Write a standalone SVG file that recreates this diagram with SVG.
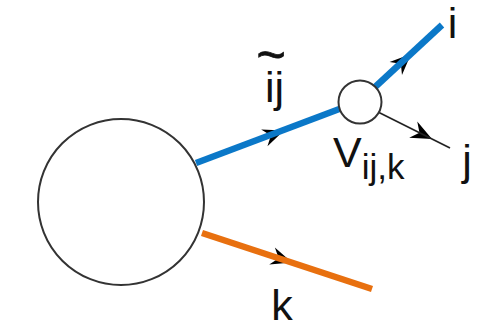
<svg xmlns="http://www.w3.org/2000/svg" width="487" height="328" viewBox="0 0 487 328">
<defs>
<style>
.lbl{font-family:"Liberation Sans",Arial,sans-serif;fill:#111;}
.big{font-size:43px;}
.sub{font-size:35px;}
.tl{font-size:50px;}
.blue{stroke:#0b78c8;stroke-width:6.5;fill:none;}
.orange{stroke:#e8700f;stroke-width:6.5;fill:none;}
.thin{stroke:#222;stroke-width:1.6;fill:none;}
.node{fill:#fff;stroke:#333;stroke-width:2;}
.ah{fill:#000;}
</style>
<path id="arr" d="M0,0 L-21,-9 L-14,0 L-21,9 Z"/>
</defs>
<rect width="487" height="328" fill="#fff"/>
<g id="connectors">
<use href="#arr" class="ah" transform="translate(284,130.5) rotate(-20.4)"/>
<use href="#arr" class="ah" transform="translate(411,54) rotate(-43.6)"/>
<use href="#arr" class="ah" transform="translate(292,262.5) rotate(18.2)"/>
<use href="#arr" class="ah" transform="translate(432,139) rotate(26.6)"/>
<line class="blue" x1="196" y1="163" x2="342" y2="108"/>
<line class="blue" x1="374" y1="88" x2="442" y2="25"/>
<line class="thin" x1="378" y1="112" x2="450" y2="148"/>
<line class="orange" x1="202" y1="233" x2="372" y2="289"/>
</g>
<g id="blob">
<circle class="node" cx="121" cy="202" r="83"/>
</g>
<g id="vertex">
<circle class="node" cx="360" cy="102" r="21.5" stroke-width="1.6"/>
</g>
<g id="labels">
<text class="lbl big" x="452.5" y="38" text-anchor="middle">i</text>
<text class="lbl big" x="467" y="175" text-anchor="middle">j</text>
<text class="lbl big" x="282" y="320" text-anchor="middle">k</text>
<text class="lbl big" text-anchor="middle"><tspan class="tl" x="271" y="72" stroke="#111" stroke-width="0.8">~</tspan><tspan x="274.5" y="102">ij</tspan></text>
<text class="lbl big" x="333" y="167">V<tspan class="sub" dy="12">ij,k</tspan></text>
</g>
</svg>
